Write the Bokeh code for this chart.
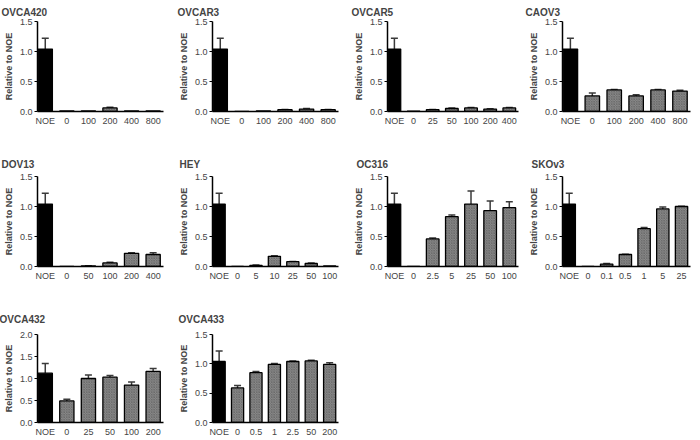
from bokeh.plotting import figure
from bokeh.layouts import column, row
from bokeh.models import Range1d, FixedTicker, ColumnDataSource, Whisker, NumeralTickFormatter, TeeHead
from bokeh.embed import file_html
from bokeh.resources import INLINE

FONT = "Liberation Sans"

# ---- data ----
noe_val = 1.04
noe_err = 0.18

ovca420_doses = ["0", "100", "200", "400", "800"]
ovca420_vals = [0.01, 0.01, 0.06, 0.01, 0.01]
ovca420_errs = [0.0, 0.0, 0.01, 0.0, 0.0]

ovcar3_doses = ["0", "100", "200", "400", "800"]
ovcar3_vals = [0.0, 0.01, 0.03, 0.04, 0.03]
ovcar3_errs = [0.0, 0.0, 0.005, 0.008, 0.005]

ovcar5_doses = ["0", "25", "50", "100", "200", "400"]
ovcar5_vals = [0.005, 0.03, 0.05, 0.06, 0.04, 0.06]
ovcar5_errs = [0.0, 0.005, 0.008, 0.005, 0.005, 0.005]

caov3_doses = ["0", "100", "200", "400", "800"]
caov3_vals = [0.26, 0.36, 0.26, 0.36, 0.34]
caov3_errs = [0.05, 0.005, 0.02, 0.005, 0.015]

dov13_doses = ["0", "50", "100", "200", "400"]
dov13_vals = [0.0, 0.01, 0.06, 0.22, 0.20]
dov13_errs = [0.0, 0.003, 0.01, 0.008, 0.03]

hey_doses = ["0", "5", "10", "25", "50", "100"]
hey_vals = [0.0, 0.02, 0.17, 0.08, 0.05, 0.01]
hey_errs = [0.0, 0.005, 0.01, 0.005, 0.008, 0.0]

oc316_doses = ["0", "2.5", "5", "25", "50", "100"]
oc316_vals = [0.0, 0.46, 0.83, 1.04, 0.93, 0.98]
oc316_errs = [0.0, 0.015, 0.03, 0.22, 0.16, 0.10]

skov3_doses = ["0", "0.1", "0.5", "1", "5", "25"]
skov3_vals = [0.0, 0.04, 0.20, 0.63, 0.96, 1.00]
skov3_errs = [0.0, 0.01, 0.005, 0.02, 0.03, 0.005]

ovca432_noe = [1.12, 0.22]
ovca432_doses = ["0", "25", "50", "100", "200"]
ovca432_vals = [0.49, 1.00, 1.03, 0.85, 1.16]
ovca432_errs = [0.04, 0.08, 0.04, 0.07, 0.07]

ovca433_doses = ["0", "0.5", "1", "2.5", "50", "200"]
ovca433_vals = [0.59, 0.85, 0.99, 1.04, 1.05, 0.99]
ovca433_errs = [0.04, 0.02, 0.015, 0.01, 0.01, 0.03]


def panel(title, doses, vals, errs, nv, ne, ymax, top, bottom, h, ts, left, right, tdx, w=175):
    labels = ["NOE"] + doses
    n = len(labels)
    xs = list(range(n))
    allv = [nv] + vals
    alle = [ne] + errs
    p = figure(width=w, height=h, output_backend="svg", toolbar_location=None,
               x_range=Range1d(-0.36, n - 1 + 0.48), y_range=Range1d(0, ymax),
               min_border_left=left, min_border_right=right, min_border_top=top,
               min_border_bottom=bottom, title=title)
    p.title.text_font = FONT
    p.title.text_font_size = "10px"
    p.title.text_font_style = "bold"
    p.title.align = "left"
    p.title.offset = tdx - 6
    p.title.standoff = ts
    p.background_fill_color = None
    p.border_fill_color = None
    p.outline_line_color = None
    p.xgrid.visible = False
    p.ygrid.visible = False

    # bars
    p.vbar(x=[0], top=[nv], width=0.66, fill_color="black", line_color="black", line_width=1.3)
    p.vbar(x=xs[1:], top=vals, width=0.66, fill_color="#8a8a8a", line_color="black",
           line_width=1.3, hatch_pattern="diagonal_cross", hatch_color="#5e5e5e",
           hatch_scale=2.5, hatch_weight=0.6)

    ex = [x for x, e in zip(xs, alle) if e > 0]
    lo = [v for v, e in zip(allv, alle) if e > 0]
    hi = [v + e for v, e in zip(allv, alle) if e > 0]
    src = ColumnDataSource(dict(x=ex, lo=lo, hi=hi))
    wk = Whisker(base="x", lower="lo", upper="hi", source=src, dimension="height",
                 line_color="#3a3a3a", line_width=1.5, lower_head=None,
                 upper_head=TeeHead(size=7, line_color="#3a3a3a", line_width=1.5))
    p.add_layout(wk)

    xa = p.xaxis[0]
    xa.ticker = FixedTicker(ticks=xs)
    xa.major_label_overrides = {i: lab for i, lab in enumerate(labels)}
    xa.major_tick_out = 0
    xa.major_tick_in = 0
    xa.minor_tick_out = 0
    xa.minor_tick_in = 0
    xa.axis_line_width = 1.5
    xa.major_label_text_font = FONT
    xa.major_label_text_font_size = "9px"
    xa.major_label_standoff = 4

    ya = p.yaxis[0]
    step = 0.5
    ya.ticker = FixedTicker(ticks=[i * step for i in range(int(round(ymax / step)) + 1)])
    ya.formatter = NumeralTickFormatter(format="0.0")
    ya.axis_label = "Relative to NOE"
    ya.axis_label_text_font = FONT
    ya.axis_label_text_font_size = "9px"
    ya.axis_label_text_font_style = "bold"
    ya.axis_label_standoff = 3
    ya.major_label_text_font = FONT
    ya.major_label_text_font_size = "9px"
    ya.major_label_standoff = 2
    ya.major_tick_out = 3
    ya.major_tick_in = 0
    ya.minor_tick_out = 0
    ya.minor_tick_in = 0
    ya.axis_line_width = 1.5
    return p


r1 = dict(top=21, bottom=38, h=149, ts=8)
r2 = dict(top=27, bottom=32, h=149, ts=14)
r3 = dict(top=36, bottom=18, h=142, ts=20)
c1 = dict(left=32, right=12)
c2 = dict(left=31, right=12)
c3 = dict(left=32, right=7)
c4 = dict(left=35, right=10)

row1 = row(
    panel("OVCA420", ovca420_doses, ovca420_vals, ovca420_errs, noe_val, noe_err, 1.5, tdx=-30, **r1, **c1),
    panel("OVCAR3", ovcar3_doses, ovcar3_vals, ovcar3_errs, noe_val, noe_err, 1.5, tdx=-29, **r1, **c2),
    panel("OVCAR5", ovcar5_doses, ovcar5_vals, ovcar5_errs, noe_val, noe_err, 1.5, tdx=-30, **r1, **c3),
    panel("CAOV3", caov3_doses, caov3_vals, caov3_errs, noe_val, noe_err, 1.5, tdx=-31, **r1, **c4),
)
row2 = row(
    panel("DOV13", dov13_doses, dov13_vals, dov13_errs, noe_val, noe_err, 1.5, tdx=-30, **r2, **c1),
    panel("HEY", hey_doses, hey_vals, hey_errs, noe_val, noe_err, 1.5, tdx=-27, **r2, **c2),
    panel("OC316", oc316_doses, oc316_vals, oc316_errs, noe_val, noe_err, 1.5, tdx=-25, **r2, **c3),
    panel("SKOv3", skov3_doses, skov3_vals, skov3_errs, noe_val, noe_err, 1.5, tdx=-25, **r2, **c4),
)
row3 = row(
    panel("OVCA432", ovca432_doses, ovca432_vals, ovca432_errs, ovca432_noe[0], ovca432_noe[1], 2.0, tdx=-32, **r3, **c1),
    panel("OVCA433", ovca433_doses, ovca433_vals, ovca433_errs, noe_val, noe_err, 1.5, tdx=-28, **r3, **c2),
)

layout = column(row1, row2, row3)
open("out.html", "w").write(file_html(layout, INLINE))
